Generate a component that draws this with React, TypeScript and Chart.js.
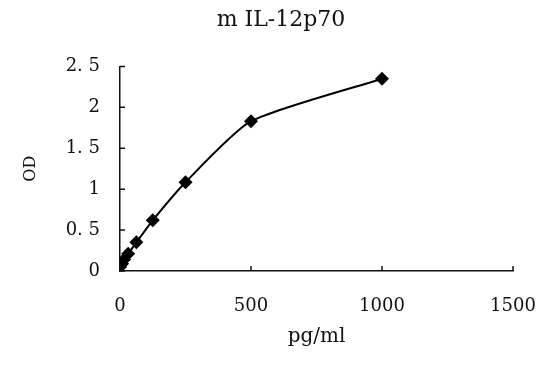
import React, { useEffect, useRef } from "react";
import { Chart, registerables } from "chart.js";

Chart.register(...registerables);

const concentrations = [0, 7.8, 15.6, 31.25, 62.5, 125, 250, 500, 1000];
const odValues = [0.05, 0.09, 0.14, 0.21, 0.35, 0.62, 1.085, 1.83, 2.35];
const xTickValues = [0, 500, 1000, 1500];
const yTickValues = [0, 0.5, 1, 1.5, 2, 2.5];
const chartTitle = "m IL-12p70";
const xTitle = "pg/ml";
const yTitle = "OD";

const FONT = "'DejaVu Serif', 'Liberation Serif', serif";

const innerTicks = {
  id: "innerTicks",
  afterDraw(chart: any) {
    const { ctx, chartArea, scales } = chart;
    ctx.save();
    ctx.strokeStyle = "#111";
    ctx.lineWidth = 1.5;
    ctx.beginPath();
    scales.x.ticks.forEach((t: any) => {
      const px = scales.x.getPixelForValue(t.value);
      ctx.moveTo(px, chartArea.bottom);
      ctx.lineTo(px, chartArea.bottom - 5);
    });
    scales.y.ticks.forEach((t: any) => {
      const py = scales.y.getPixelForValue(t.value);
      ctx.moveTo(chartArea.left, py);
      ctx.lineTo(chartArea.left + 5, py);
    });
    ctx.stroke();
    ctx.restore();
  },
};

export default function App() {
  const ref = useRef<HTMLCanvasElement | null>(null);
  useEffect(() => {
    if (!ref.current) return;
    const chart = new Chart(ref.current, {
      type: "line",
      data: {
        datasets: [
          {
            data: concentrations.map((x, i) => ({ x, y: odValues[i] })),
            borderColor: "#000",
            backgroundColor: "#000",
            borderWidth: 2,
            pointStyle: "rectRot",
            pointRadius: 7,
            pointBorderWidth: 0,
            tension: 0.2,
            fill: false,
          },
        ],
      },
      options: {
        animation: false,
        responsive: false,
        maintainAspectRatio: false,
        layout: { padding: { left: 14, right: 0, top: 0, bottom: 0 } },
        plugins: {
          legend: { display: false },
          tooltip: { enabled: false },
          title: {
            display: true,
            text: chartTitle,
            color: "#111",
            font: { family: FONT, size: 22, weight: "normal" },
            padding: { top: 7, bottom: 33 },
          },
        },
        scales: {
          x: {
            type: "linear",
            min: 0,
            max: 1500,
            afterBuildTicks: (s: any) => {
              s.ticks = xTickValues.map((v) => ({ value: v }));
            },
            afterFit: (s: any) => {
              s.height = 105;
              s.paddingRight = 35;
            },
            grid: { display: false, drawTicks: false },
            border: { display: true, color: "#111", width: 1.5 },
            ticks: {
              color: "#111",
              padding: 25,
              maxRotation: 0,
              font: { family: FONT, size: 18 },
              callback: (v: any) => String(v),
            },
            title: {
              display: true,
              text: xTitle,
              color: "#111",
              font: { family: FONT, size: 20 },
              padding: { top: 0, bottom: 27 },
            },
          },
          y: {
            type: "linear",
            min: 0,
            max: 2.5,
            afterBuildTicks: (s: any) => {
              s.ticks = yTickValues.map((v) => ({ value: v }));
            },
            afterFit: (s: any) => {
              s.width = 106;
            },
            grid: { display: false, drawTicks: false },
            border: { display: true, color: "#111", width: 1.5 },
            ticks: {
              color: "#111",
              padding: 20,
              font: { family: FONT, size: 18 },
              callback: (v: any) => String(v).replace(".", ". "),
            },
            title: {
              display: true,
              text: yTitle,
              color: "#111",
              font: { family: FONT, size: 16 },
              padding: { top: 7, bottom: 0 },
            },
          },
        },
      },
      plugins: [innerTicks],
    });
    return () => chart.destroy();
  }, []);
  return (
    <div style={{ position: "absolute", left: 0, top: 0, width: 548, height: 376, background: "#fff" }}>
      <canvas ref={ref} width={548} height={376} style={{ width: 548, height: 376 }} />
    </div>
  );
}
